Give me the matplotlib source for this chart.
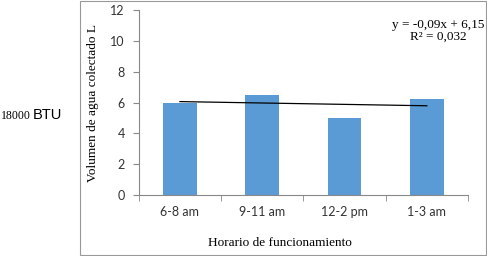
import numpy as np
import matplotlib
matplotlib.use("Agg")
import matplotlib.pyplot as plt
from matplotlib.patches import Rectangle

categories = ['6-8 am', '9-11 am', '12-2 pm', '1-3 am']
volumen = [6.0, 6.5, 5.0, 6.2]
y_ticks = [0, 2, 4, 6, 8, 10, 12]

fig = plt.figure(figsize=(4.87, 2.56), dpi=100)
ax = fig.add_axes([0.285, 0.238, 0.676, 0.723])

x = np.arange(1, len(categories) + 1)
ax.bar(x, volumen, width=0.41, color='#5b9bd5')

# linear trend like Excel
slope, intercept = np.polyfit(x, volumen, 1)
fit = slope * x + intercept
r2 = 1 - np.sum((np.array(volumen) - fit) ** 2) / np.sum((np.array(volumen) - np.mean(volumen)) ** 2)
ax.plot(x, fit, color='black', lw=0.9)

ax.set_xlim(0.5, 4.5)
ax.set_ylim(0, 12)
ax.set_yticks(y_ticks)
ax.set_xticks(x)
ax.set_xticklabels(categories, fontfamily='Lato', fontsize=9, color='#333333')
ax.set_yticklabels([str(t) for t in y_ticks], fontfamily='Lato', fontsize=9, color='#333333')
ax.set_xticks(np.arange(0.5, 4.6, 1), minor=True)
ax.tick_params(axis='x', which='major', length=0, pad=8)
ax.tick_params(axis='x', which='minor', length=4, color='#888888')
ax.tick_params(axis='y', length=4, color='#888888', pad=6)
for s in ['top', 'right']:
    ax.spines[s].set_visible(False)
for s in ['left', 'bottom']:
    ax.spines[s].set_color('#888888')
    ax.spines[s].set_linewidth(0.8)

ax.set_ylabel('Volumen de agua colectado L', fontfamily='Liberation Serif', fontsize=9.5, labelpad=8)
fig.text(0.575, 0.05, 'Horario de funcionamiento', fontfamily='Liberation Serif', fontsize=9.5,
         ha='center', va='center')
fig.text(0.9, 0.903, 'y = %sx + %s' % (('%.2f' % slope).replace('.', ','), ('%.2f' % intercept).replace('.', ',')),
         fontfamily='Liberation Serif', fontsize=9.5, ha='center', va='center')
fig.text(0.9, 0.858, 'R² = %s' % ('%.3f' % r2).replace('.', ','),
         fontfamily='Liberation Serif', fontsize=9.5, ha='center', va='center')

fig.text(0.002, 0.548, '18000', fontfamily='Liberation Serif', fontsize=8.5, ha='left', va='center')
fig.text(0.068, 0.55, 'BTU', fontfamily='Liberation Sans', fontsize=10.5, ha='left', va='center')

fig.patches.append(Rectangle((0.165, 0.002), 0.833, 0.995, transform=fig.transFigure,
                             fill=False, edgecolor='#999999', lw=0.8))

fig.savefig('out.png', dpi=100)
